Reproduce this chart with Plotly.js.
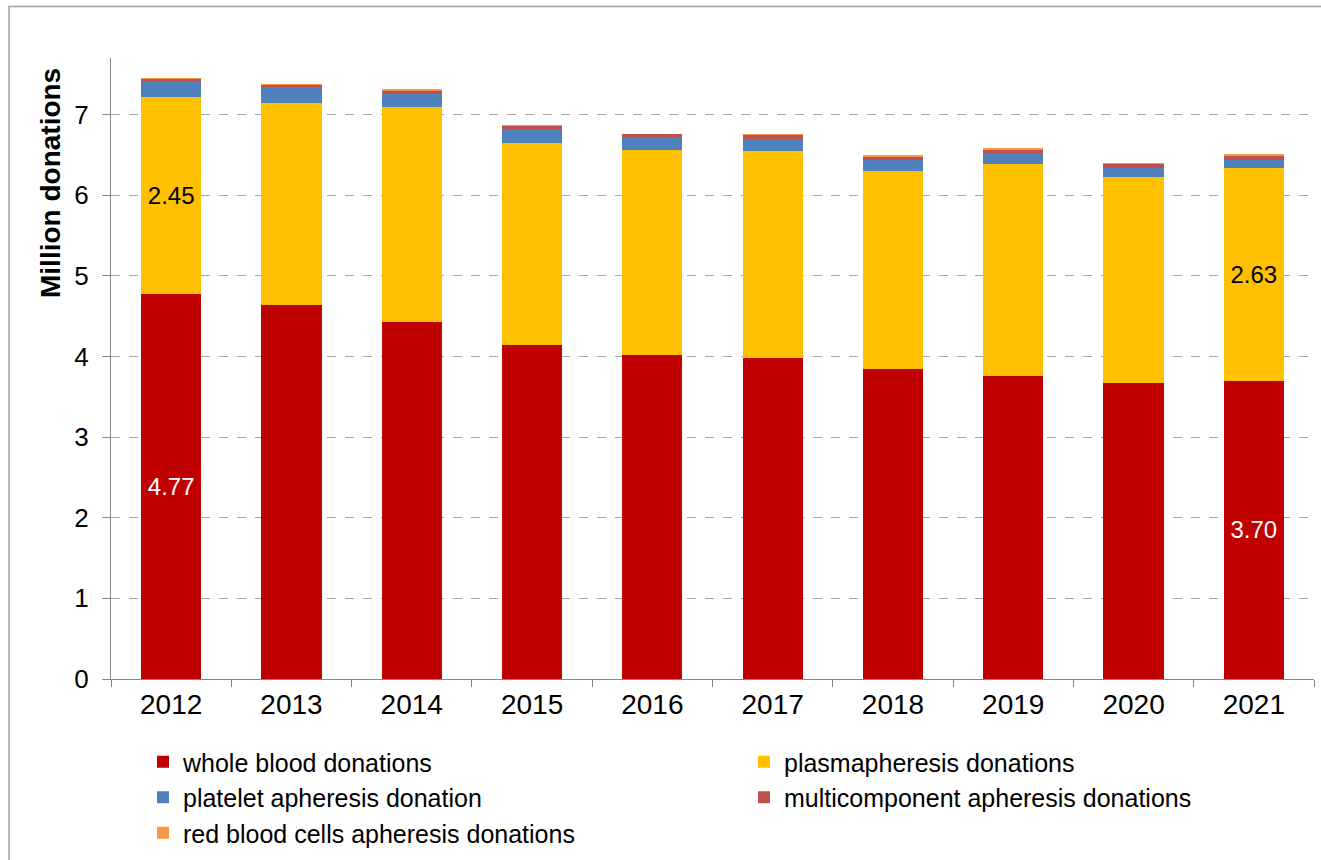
<!DOCTYPE html>
<html>
<head>
<meta charset="utf-8">
<script src="https://cdn.plot.ly/plotly-3.0.1.min.js"></script>
<style>html,body{margin:0;padding:0;background:#fff;}#chart{width:1321px;height:860px;}</style>
</head>
<body>
<div id="chart"></div>
<script>
const years = ['2012','2013','2014','2015','2016','2017','2018','2019','2020','2021'];
const wholeBlood = [4.77, 4.64, 4.43, 4.14, 4.02, 3.98, 3.85, 3.76, 3.67, 3.70];
const plasmapheresis = [2.45, 2.50, 2.66, 2.51, 2.54, 2.57, 2.45, 2.63, 2.55, 2.63];
const platelet = [0.19, 0.20, 0.17, 0.17, 0.16, 0.145, 0.13, 0.13, 0.11, 0.11];
const multicomponent = [0.025, 0.03, 0.035, 0.04, 0.035, 0.05, 0.045, 0.045, 0.06, 0.05];
const redCells = [0.015, 0.01, 0.02, 0.015, 0.008, 0.015, 0.02, 0.02, 0.012, 0.017];
const labelledYears = ['2012', '2021'];

const seriesNames = ['whole blood donations', 'plasmapheresis donations', 'platelet apheresis donation', 'multicomponent apheresis donations', 'red blood cells apheresis donations'];
const colors = ['#C00000', '#FFC000', '#4F81BD', '#C0504D', '#F79646'];
const seriesData = [wholeBlood, plasmapheresis, platelet, multicomponent, redCells];

function labels(vals) {
  return vals.map((v, i) => labelledYears.includes(years[i]) ? v.toFixed(2) : '');
}

const FONT = 'Liberation Sans, Arial, sans-serif';

const traces = seriesData.map((vals, k) => {
  const t = {
    type: 'bar', x: years, y: vals, name: seriesNames[k],
    marker: {color: colors[k], line: {width: 0}},
    hoverinfo: 'skip'
  };
  if (k < 2) {
    t.text = labels(vals);
    t.textposition = 'inside';
    t.insidetextanchor = 'middle';
    t.textangle = 0;
    t.insidetextfont = {family: FONT, size: 24, color: k === 0 ? '#ffffff' : '#000000'};
    t.constraintext = 'none';
  } else {
    t.textposition = 'none';
  }
  return t;
});

const L = 111, R = 1314, T = 58, B = 679;
const pw = R - L, ph = B - T;
function px(x) { return (x - L) / pw; }
function py(y) { return (B - y) / ph; }

const layout = {
  width: 1321, height: 860,
  margin: {l: L, r: 1321 - R, t: T, b: 860 - B, autoexpand: false},
  paper_bgcolor: '#ffffff', plot_bgcolor: '#ffffff',
  font: {family: FONT, size: 20, color: '#000'},
  barmode: 'stack', bargap: 0.5,
  showlegend: true,
  xaxis: {
    type: 'category', showgrid: false, showline: true, linecolor: '#868686', linewidth: 1,
    ticks: 'outside', tickson: 'boundaries', ticklen: 7, tickcolor: '#868686',
    tickfont: {size: 28}, zeroline: false, fixedrange: true, automargin: false
  },
  yaxis: {
    range: [0, 7.7], dtick: 1, tick0: 0, showline: true, linecolor: '#868686', linewidth: 1,
    ticks: 'outside', ticklen: 8, tickcolor: '#868686', ticklabelstandoff: 8,
    showgrid: true, gridcolor: '#A6A6A6', griddash: 'dash', gridwidth: 1,
    zeroline: false, tickfont: {size: 26}, fixedrange: true, automargin: false
  },
  legend: {
    orientation: 'h', traceorder: 'normal', x: px(143), y: py(739), xanchor: 'left', yanchor: 'top',
    entrywidth: 556, entrywidthmode: 'pixels', font: {size: 25}, itemclick: false,
    bgcolor: 'rgba(0,0,0,0)'
  },
  annotations: [{
    text: '<b>Million donations</b>', textangle: -90, showarrow: false,
    xref: 'paper', yref: 'paper', x: px(50), y: py(183), xanchor: 'center', yanchor: 'middle',
    font: {size: 28, color: '#000'}
  }],
  shapes: [{
    type: 'rect', xref: 'paper', yref: 'paper', x0: px(9), x1: px(1330), y0: py(870), y1: py(6.5),
    line: {color: '#A0A0A0', width: 1.5}, fillcolor: 'rgba(0,0,0,0)', layer: 'below'
  }]
};

Plotly.newPlot('chart', traces, layout, {displayModeBar: false, staticPlot: true});
</script>
</body>
</html>
